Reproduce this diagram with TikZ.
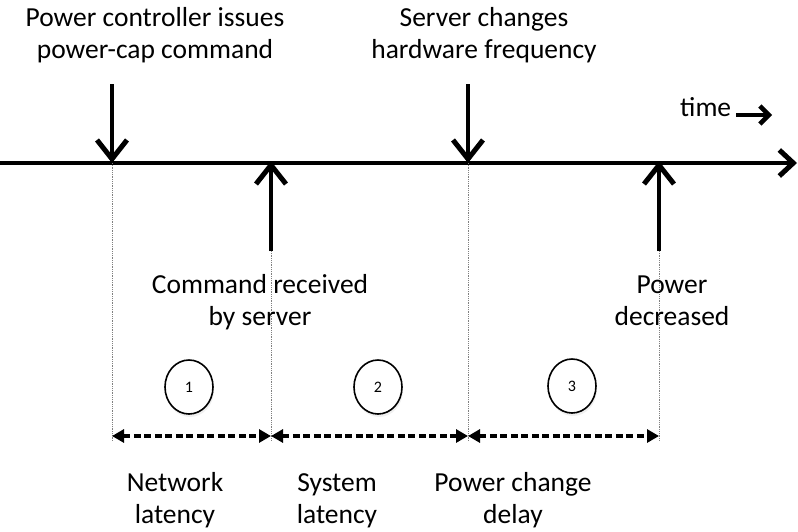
\documentclass[tikz,border=0pt]{standalone}
\usepackage{fontspec}
\setmainfont{Carlito}
\usetikzlibrary{arrows.meta,shapes.geometric,shadows}

\begin{document}
\begin{tikzpicture}[x=1pt,y=-1pt,
  lbl/.style={align=center,inner sep=0pt,anchor=base,font=\fontsize{27.5}{32}\selectfont},
  event/.style={line width=4.6pt,-{Straight Barb[length=19pt,width=30pt,line width=5pt]}},
  axis/.style={line width=3.4pt,-{Straight Barb[length=14pt,width=26pt,line width=5pt]}},
  guide/.style={gray,densely dotted,line width=0.8pt},
  span/.style={line width=3.2pt,dash pattern=on 7pt off 3.5pt,{Triangle[length=12pt,width=13pt]}-{Triangle[length=12pt,width=13pt]}},
  num/.style={ellipse,draw,line width=1.6pt,minimum width=48pt,minimum height=54pt,inner sep=0pt,
    fill=white,font=\fontsize{16}{18}\selectfont,
    drop shadow={opacity=0.12,shadow xshift=1pt,shadow yshift=-3pt}}
]
\useasboundingbox (0,0) rectangle (798,531);

% time axis
\coordinate (axL) at (0,163);
\coordinate (axR) at (797,163);
\draw[axis] (axL) -- (axR);

% event points on the axis
\coordinate (e1) at (112,163);
\coordinate (e2) at (271,163);
\coordinate (e3) at (468,163);
\coordinate (e4) at (659,163);

% arrow tails
\coordinate (t1) at (112,84);
\coordinate (t2) at (271,251);
\coordinate (t3) at (468,84);
\coordinate (t4) at (659,251);

% interval end points
\coordinate (b1) at (112,436);
\coordinate (b2) at (271,436);
\coordinate (b3) at (468,436);
\coordinate (b4) at (659,436);

% dotted guides
\draw[guide] (e1) -- (112,441);
\draw[guide] (t2) -- (271,441);
\draw[guide] (e3) -- (468,441);
\draw[guide] (t4) -- (659,441);

% event arrows
\draw[event] (t1) -- (e1);
\draw[event] (t2) -- ([yshift=2pt]e2);
\draw[event] (t3) -- (e3);
\draw[event] (t4) -- ([yshift=2pt]e4);

% intervals
\draw[span] (b1) -- (b2);
\draw[span] (b2) -- (b3);
\draw[span] (b3) -- (b4);

% numbered circles
\node[num] (n1) at (189,387) {1};
\node[num] (n2) at (378,387) {2};
\node[num] (n3) at (572,386) {3};

% labels (anchored at the baseline of their last line)
\node[lbl] (l1) at (155,58) {Power controller issues\\power-cap command};
\node[lbl] (l2) at (484,58) {Server changes\\hardware frequency};
\node[lbl] (l3) at (260,325) {Command received\\by server};
\node[lbl] (l4) at (672,325) {Power\\decreased};
\node[lbl] (l5) at (175,523) {Network\\latency};
\node[lbl] (l6) at (337,523) {System\\latency};
\node[lbl] (l7) at (513,523) {Power change\\delay};

% time hint
\node[lbl,anchor=base west] (tm) at (680,116) {time};
\coordinate (ta) at (736,115);
\coordinate (tb) at (772,115);
\draw[line width=3.4pt,-{Straight Barb[length=9pt,width=18pt,line width=4.5pt]}] (ta) -- (tb);
\end{tikzpicture}
\end{document}
